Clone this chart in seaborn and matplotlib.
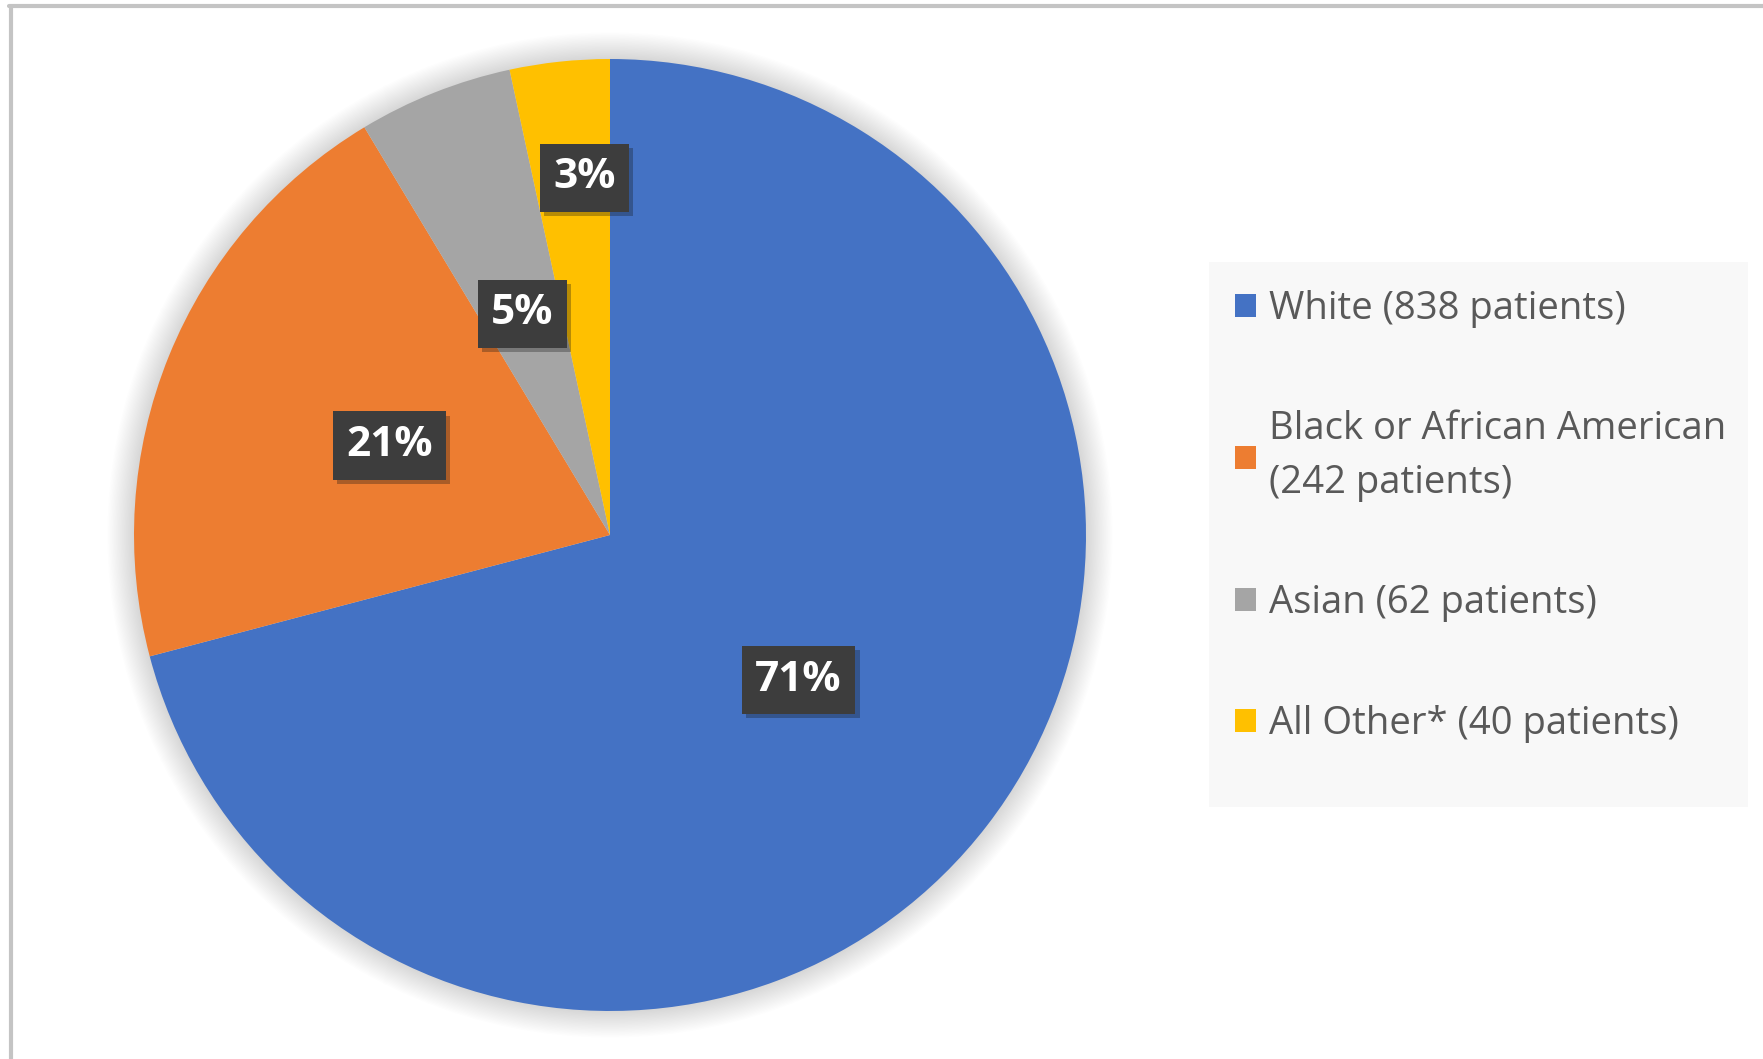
import matplotlib
matplotlib.use("Agg")
import numpy as np
import matplotlib.pyplot as plt
import matplotlib.patheffects as pe
from matplotlib.patches import Patch, Circle, Rectangle
from matplotlib.lines import Line2D
import seaborn as sns

# ---- data ----
categories = ["White", "Black or African American", "Asian", "All Other*"]
patients = [838, 242, 62, 40]
pct_labels = ["71%", "21%", "5%", "3%"]
legend_labels = ["White (838 patients)",
                 "Black or African American\n(242 patients)",
                 "Asian (62 patients)",
                 "All Other* (40 patients)"]

# ---- style ----
colors = ["#4472C4", "#ED7D31", "#A5A5A5", "#FFC000"]
label_dist = [0.5, 0.5, 0.5, 0.752]
label_angle_shift = [0, 0, 0, -2.0]

sns.set_theme(style="white")
plt.rcParams['font.family'] = ['Open Sans', 'DejaVu Sans']

W, H = 1763, 1059
fig = plt.figure(figsize=(W / 100, H / 100), dpi=100)
fig.patch.set_facecolor("white")

# pie axes: center (610, 535) px, radius 476 px
cx, cy, r = 610, 535, 476
ax = fig.add_axes([(cx - r) / W, (H - cy - r) / H, 2 * r / W, 2 * r / H])
ax.set_aspect("equal")
ax.axis("off")

# soft shadow halo
for k in range(20):
    ax.add_patch(Circle((0, 0), 1.0 + 0.0028 * (k + 1),
                        facecolor="#000000", edgecolor="none",
                        alpha=0.008, zorder=0, clip_on=False))

wedges, texts, autotexts = ax.pie(
    patients, colors=colors, startangle=90, counterclock=False,
    autopct="%1.0f%%", pctdistance=0.5, radius=1.0,
    wedgeprops=dict(linewidth=0, zorder=2),
    textprops=dict(color="white", fontsize=30.5, fontweight="bold"),
)
ax.set_xlim(-1, 1)
ax.set_ylim(-1, 1)

for w, t, lab, d, sh in zip(wedges, autotexts, pct_labels, label_dist,
                            label_angle_shift):
    mid = np.deg2rad((w.theta1 + w.theta2) / 2 + sh)
    t.set_position((d * np.cos(mid), d * np.sin(mid)))
    t.set_text(lab)
    t.set_zorder(5)
    t.set_bbox(dict(boxstyle="square,pad=0.32", facecolor="#3d3d3d",
                    edgecolor="none"))
    t.get_bbox_patch().set_path_effects(
        [pe.SimplePatchShadow(offset=(3, -3), alpha=0.3), pe.Normal()])

# legend background
fig.add_artist(Rectangle((1209 / W, 1 - 807 / H), (1748 - 1209) / W,
                         (807 - 262) / H, transform=fig.transFigure,
                         facecolor="#f8f8f8", edgecolor="none", zorder=0))

handles = [Patch(facecolor=c, edgecolor="none") for c in colors]
leg = fig.legend(handles, legend_labels, loc="upper left",
                 bbox_to_anchor=(1235 / W, 1 - 290 / H),
                 frameon=False, fontsize=27.5, labelcolor="#595959",
                 handlelength=0.55, handleheight=0.55, handletextpad=0.33,
                 labelspacing=2.15, borderpad=0, borderaxespad=0)
for t in leg.get_texts():
    t.set_linespacing(1.56)

# figure border (top and left)
fig.add_artist(Line2D([11 / W, 11 / W], [0, 1 - 6 / H], transform=fig.transFigure,
                      color="#c4c4c4", lw=3))
fig.add_artist(Line2D([9 / W, 1], [1 - 6 / H, 1 - 6 / H], transform=fig.transFigure,
                      color="#c4c4c4", lw=3))

fig.savefig("out.png", dpi=100)
